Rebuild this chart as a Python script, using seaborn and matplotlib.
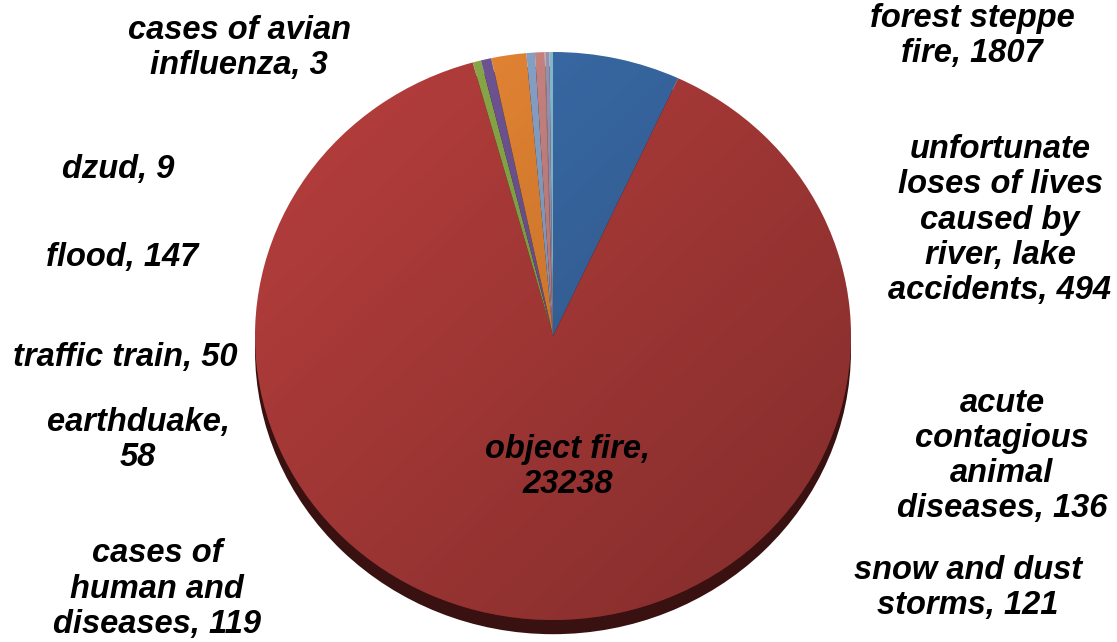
import numpy as np
import matplotlib
matplotlib.use("Agg")
import matplotlib.pyplot as plt
from matplotlib.patches import Ellipse
import seaborn as sns

# ---- data ----
categories = ["forest steppe fire", "object fire", "cases of human and diseases",
              "flood", "cases of avian influenza", "unfortunate loses of lives caused by river, lake accidents",
              "snow and dust storms", "acute contagious animal diseases", "dzud",
              "earthduake", "traffic train"]
values = [1807, 23238, 119, 147, 3, 494, 121, 136, 9, 58, 50]
colors = ["#3C6FAE", "#B83F3D", "#8FB04B", "#74589A", "#43A0BA", "#EE8A35",
          "#8EABD2", "#D28A88", "#BCD092", "#A898C0", "#8CC7D8"]

label_texts = ["forest steppe\nfire, 1807", "object fire,\n23238", "cases of\nhuman and\ndiseases, 119",
               "flood, 147", "cases of avian\ninfluenza, 3", "unfortunate\nloses of lives\ncaused by\nriver, lake\naccidents, 494",
               "snow and dust\nstorms, 121", "acute\ncontagious\nanimal\ndiseases, 136", "dzud, 9",
               "earthduake,\n58", "traffic train, 50"]
# label centres in pixels (x, y from top)
label_pos = [(972, 36), (568, 467), (157, 589), (122, 258), (239, 48), (1000, 220),
             (968, 588), (1002, 456), (118, 170), (138, 440), (125, 358)]

sns.set_theme(style="white")
plt.rcParams["font.family"] = ["Liberation Sans", "DejaVu Sans"]

W, H = 1117, 642
fig = plt.figure(figsize=(W / 100, H / 100), dpi=100)
fig.patch.set_facecolor("white")

cx, cy, rx, ry = 553, 336, 298, 284
ax = fig.add_axes([(cx - rx) / W, (H - (cy + ry)) / H, 2 * rx / W, 2 * ry / H])

# 3D side of the pie
side = Ellipse((0, -0.05), 2, 2, facecolor="#3a1111", edgecolor="none", zorder=0, clip_on=False)
ax.add_patch(side)

wedges, _ = ax.pie(values, colors=colors, startangle=90, counterclock=False,
                   wedgeprops=dict(linewidth=0, zorder=1), radius=1)
ax.set_aspect("auto")
ax.axis("off")

# shading gradient: lighter top-left, darker bottom-right
n = 300
xx, yy = np.meshgrid(np.linspace(-1, 1, n), np.linspace(1, -1, n))
t = np.clip((xx - yy) / 2.0 * 0.5 + 0.5, 0, 1)
rgba = np.zeros((n, n, 4))
rgba[..., 3] = 0.30 * t
img = ax.imshow(rgba, extent=(-1, 1, -1, 1), zorder=2, aspect="auto")
clip = Ellipse((0, 0), 2, 2, transform=ax.transData, facecolor="none", edgecolor="none")
ax.add_patch(clip)
img.set_clip_path(clip)
ax.set_xlim(-1, 1)
ax.set_ylim(-1, 1)

for txt, (px, py) in zip(label_texts, label_pos):
    fig.text(px / W, 1 - py / H, txt, ha="center", va="center", fontsize=23.5,
             fontweight="bold", fontstyle="italic", color="black", linespacing=1.17,
             multialignment="center", zorder=5)

fig.savefig("out.png", dpi=100, facecolor="white")
